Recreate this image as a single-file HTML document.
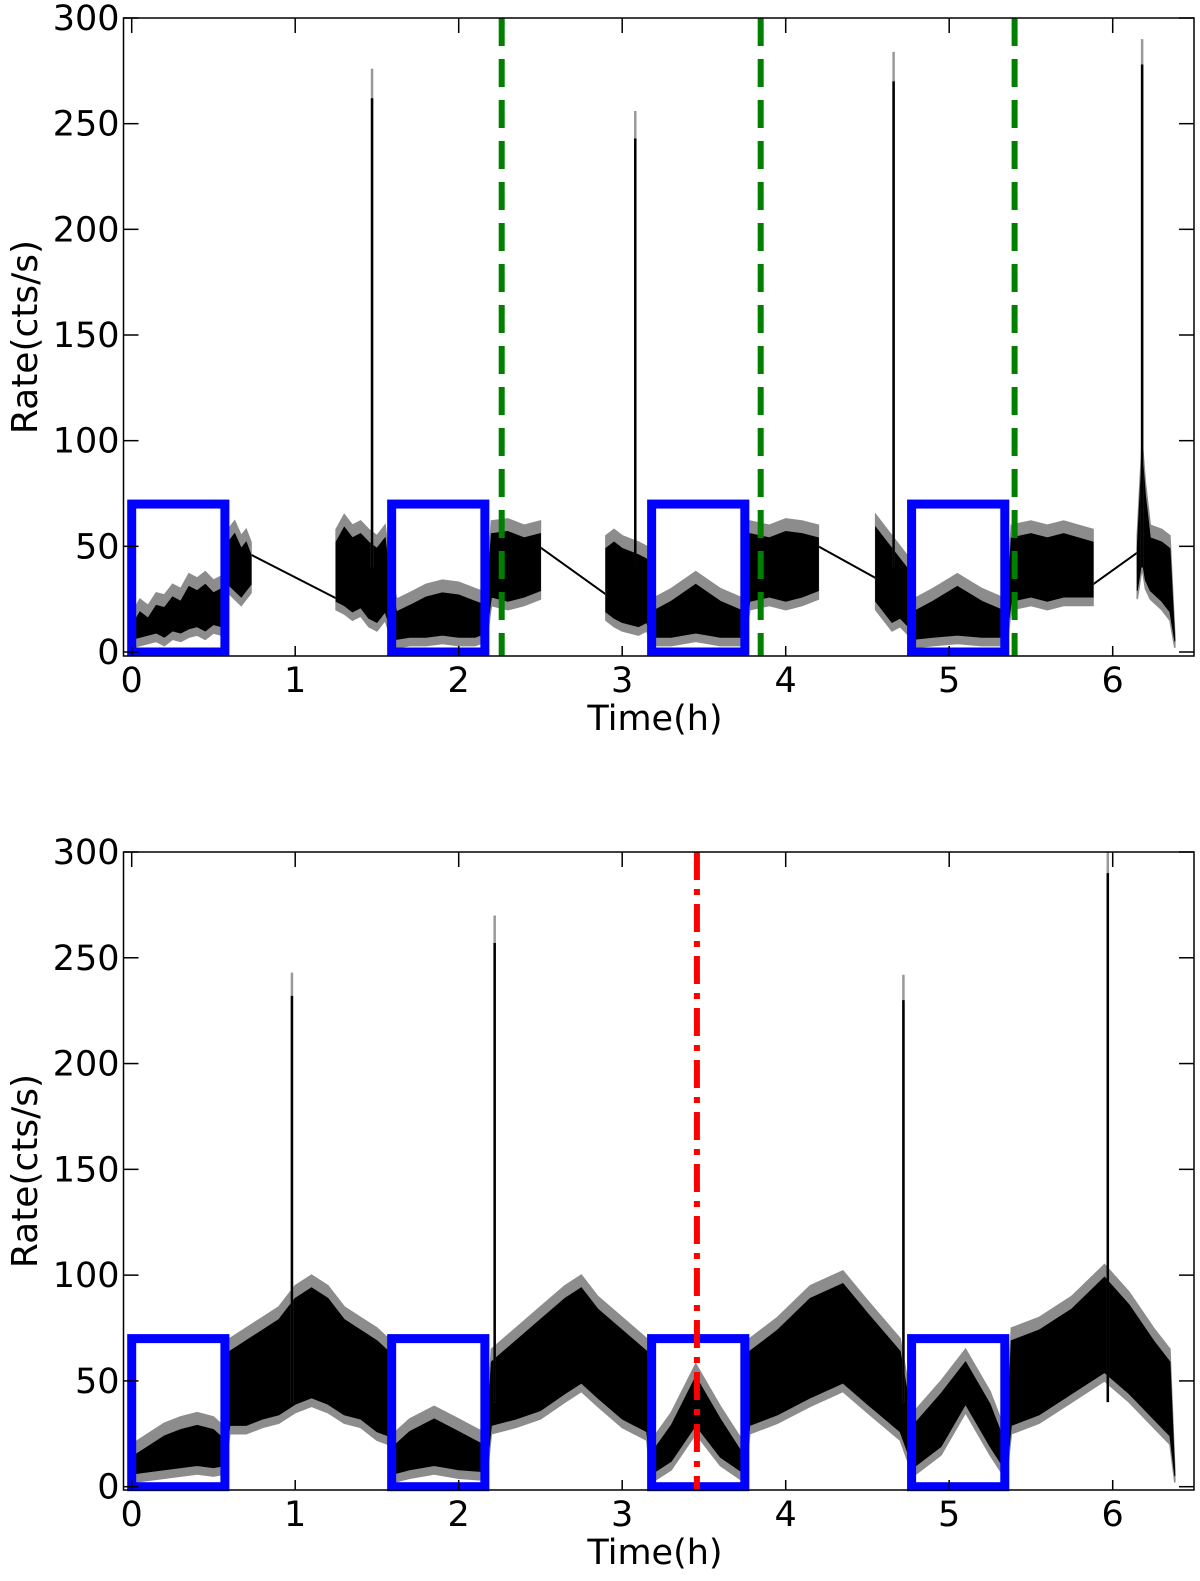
<!DOCTYPE html>
<html><head><meta charset="utf-8"><style>
html,body{margin:0;padding:0;background:#fff;}
svg{display:block;font-family:"DejaVu Sans","Liberation Sans",sans-serif;}
</style></head><body>
<svg id="chart" width="1200" height="1581" viewBox="0 0 1200 1581" xmlns="http://www.w3.org/2000/svg"></svg>
<script>
// ---- data ----
const xTicks = [0,1,2,3,4,5,6];
const yTicks = [0,50,100,150,200,250,300];
const boxStarts = [0,1.59,3.18,4.77];
const boxWidth = 0.57;
const boxHeight = 70;
const greenLines = [2.263,3.847,5.40];
const redLine = 3.457;

const topT  = [0,0.05,0.1,0.15,0.2,0.25,0.3,0.35,0.4,0.45,0.5,0.55,0.57,0.59,0.63,0.67,0.7,0.73,null,
  1.25,1.3,1.35,1.4,1.45,1.5,1.55,1.58,1.62,1.7,1.8,1.9,2.0,2.1,2.17,2.2,2.3,2.4,2.5,null,
  2.9,2.95,3.0,3.1,3.15,3.18,3.3,3.45,3.6,3.75,3.78,3.9,4.0,4.1,4.2,null,
  4.55,4.6,4.65,4.7,4.75,4.78,4.9,5.05,5.2,5.35,5.38,5.5,5.6,5.7,5.88,null,
  6.15,6.18,6.2,6.23,6.3,6.35,6.38];
const topLo = [2,3,4,5,3,6,5,7,8,6,9,8,10,28,25,22,25,28,null,
  20,18,15,17,12,10,15,8,2,3,3,4,3,3,5,22,20,22,25,null,
  15,12,10,8,10,3,3,5,3,3,20,22,20,22,25,null,
  20,15,10,12,8,2,3,4,3,3,20,22,20,22,22,null,
  25,40,30,25,20,15,2];
const topHi = [18,25,22,28,27,32,30,37,35,38,34,36,30,58,62,55,58,52,null,
  58,65,60,62,58,55,60,40,25,28,32,34,33,30,28,62,63,60,62,null,
  55,58,55,52,50,25,30,38,30,25,62,60,63,62,60,null,
  65,60,55,50,45,25,30,37,30,25,60,62,60,62,58,null,
  55,100,80,60,58,55,8];
const topSpikeT = [1.47,3.08,4.66,6.18];
const topSpikeGrey = [276,256,284,290];
const topSpikeBlack = [262,243,270,278];
// straight connectors across data gaps
const gapT0 = [0.73,2.49,4.2,5.88];
const gapV0 = [46,50,50,32];
const gapT1 = [1.26,2.905,4.55,6.15];
const gapV1 = [25,27,35,47];

const botT  = [0,0.1,0.2,0.3,0.4,0.5,0.57,0.6,0.7,0.8,0.9,1.0,1.1,1.2,1.3,1.4,1.5,1.57,1.6,1.7,1.85,2.0,2.17,
  2.2,2.35,2.5,2.65,2.75,2.85,3.0,3.15,3.18,3.3,3.45,3.6,3.75,3.78,3.95,4.15,4.35,4.5,4.7,
  4.78,4.95,5.1,5.25,5.35,5.38,5.55,5.75,5.95,6.1,6.25,6.35,6.38];
const botLo = [2,3,4,5,6,5,6,25,25,28,30,35,38,35,30,28,22,20,2,4,6,4,3,
  25,28,32,40,45,38,28,22,2,8,25,10,2,25,30,38,45,35,22,
  5,15,35,15,3,25,30,40,50,40,28,20,2];
const botHi = [20,25,30,33,35,33,28,70,75,80,85,95,100,95,85,80,75,70,25,32,38,32,25,
  65,75,85,95,100,90,80,70,22,35,58,38,20,70,80,95,102,88,70,
  35,50,65,45,25,75,80,90,105,92,75,65,8];
const botSpikeT = [0.98,2.22,4.72,5.97];
const botSpikeGrey = [243,270,242,300];
const botSpikeBlack = [232,257,230,290];

// ---- layout ----
const NS = "http://www.w3.org/2000/svg";
const svg = document.getElementById('chart');
const X0 = 131.7, XS = 163.5, LEFT = 123.5, RIGHT = 1194;
function xS(t){ return X0 + t*XS; }
function mk(tag, attrs, parent){
  const e = document.createElementNS(NS, tag);
  for (const k in attrs) e.setAttribute(k, attrs[k]);
  (parent||svg).appendChild(e);
  return e;
}

function panel(name, y0, top, bottom, T, LO, HI, sT, sG, sB, gaps, overlay){
  const yS = v => y0 - v*(y0-top)/300;
  const g = mk('g', {});
  
  
  const segs = []; let cur = [];
  T.forEach((t,i)=>{ if(t===null){ if(cur.length) segs.push(cur); cur=[]; } else cur.push(i); });
  if(cur.length) segs.push(cur);
  if(gaps){
    gaps.t0.forEach((t0,i)=>{
      const l = mk('line',{x1:xS(t0),y1:yS(gaps.v0[i]),x2:xS(gaps.t1[i]),y2:yS(gaps.v1[i]),stroke:'#000','stroke-width':2},g);
      
      
    });
  }
  segs.forEach(seg=>{
    let up = seg.map(i=>xS(T[i])+','+yS(HI[i])).join(' ');
    let dn = seg.slice().reverse().map(i=>xS(T[i])+','+yS(LO[i])).join(' ');
    const p1 = mk('polygon',{points:up+' '+dn,fill:'#8c8c8c',stroke:'#8c8c8c','stroke-width':1.5},g);
    
    
    up = seg.map(i=>xS(T[i])+','+yS(Math.max(HI[i]-6,(LO[i]+HI[i])/2))).join(' ');
    dn = seg.slice().reverse().map(i=>xS(T[i])+','+yS(Math.min(LO[i]+4,(LO[i]+HI[i])/2))).join(' ');
    const p2 = mk('polygon',{points:up+' '+dn,fill:'#000',stroke:'#000','stroke-width':1},g);
    
    
  });
  sT.forEach((t,i)=>{
    const a = mk('line',{x1:xS(t),y1:yS(40),x2:xS(t),y2:yS(sG[i]),stroke:'#999','stroke-width':2.5},g);
    
    
    const b = mk('line',{x1:xS(t),y1:yS(40),x2:xS(t),y2:yS(sB[i]),stroke:'#000','stroke-width':2.5},g);
    
    
  });
  boxStarts.forEach(b=>{
    const r = mk('rect',{x:xS(b),y:yS(boxHeight),width:xS(b+boxWidth)-xS(b),height:yS(0)-yS(boxHeight),fill:'none',stroke:'#0000ff','stroke-width':9},g);
    
    
  });
  overlay(g, yS);
  const f = mk('rect',{x:LEFT,y:top,width:RIGHT-LEFT,height:bottom-top,fill:'none',stroke:'#000','stroke-width':1.5},g);
  
  
  xTicks.forEach(t=>{
    mk('line',{x1:xS(t),y1:bottom,x2:xS(t),y2:bottom-10,stroke:'#000','stroke-width':1.5},g);
    mk('line',{x1:xS(t),y1:top,x2:xS(t),y2:top+15,stroke:'#000','stroke-width':1.5},g);
    const tx = mk('text',{x:xS(t),y:bottom+36,'font-size':35,'text-anchor':'middle'},g);
    tx.textContent = t;
    
    
  });
  yTicks.forEach(v=>{
    mk('line',{x1:LEFT,y1:yS(v),x2:LEFT+15,y2:yS(v),stroke:'#000','stroke-width':1.5},g);
    mk('line',{x1:RIGHT,y1:yS(v),x2:RIGHT-15,y2:yS(v),stroke:'#000','stroke-width':1.5},g);
    const ty = mk('text',{x:LEFT-4,y:yS(v)+12,'font-size':35,'text-anchor':'end'},g);
    ty.textContent = v;
    
    
  });
  const xl = mk('text',{x:655,y:bottom+74,'font-size':35,'text-anchor':'middle'},g);
  xl.textContent = 'Time(h)';
  
  
  const cy = (top+bottom)/2;
  const yl = mk('text',{x:0,y:0,'font-size':36,'text-anchor':'middle',transform:'translate(37,'+cy+') rotate(-90)'},g);
  yl.textContent = 'Rate(cts/s)';
  
  
}

panel('top-panel', 652, 18, 656, topT, topLo, topHi, topSpikeT, topSpikeGrey, topSpikeBlack,
  {t0:gapT0, v0:gapV0, t1:gapT1, v1:gapV1}, (g, yS)=>{
  greenLines.forEach(t=>{
    const l = mk('line',{x1:xS(t),y1:18,x2:xS(t),y2:656,stroke:'#008000','stroke-width':6,'stroke-dasharray':'28 13'},g);
    
    
  });
});
panel('bottom-panel', 1486.7, 852, 1490, botT, botLo, botHi, botSpikeT, botSpikeGrey, botSpikeBlack, null, (g, yS)=>{
  const l = mk('line',{x1:xS(redLine),y1:852,x2:xS(redLine),y2:1490,stroke:'#ff0000','stroke-width':6,'stroke-dasharray':'28 9 6 9'},g);
  
  
});
</script>
</body></html>
